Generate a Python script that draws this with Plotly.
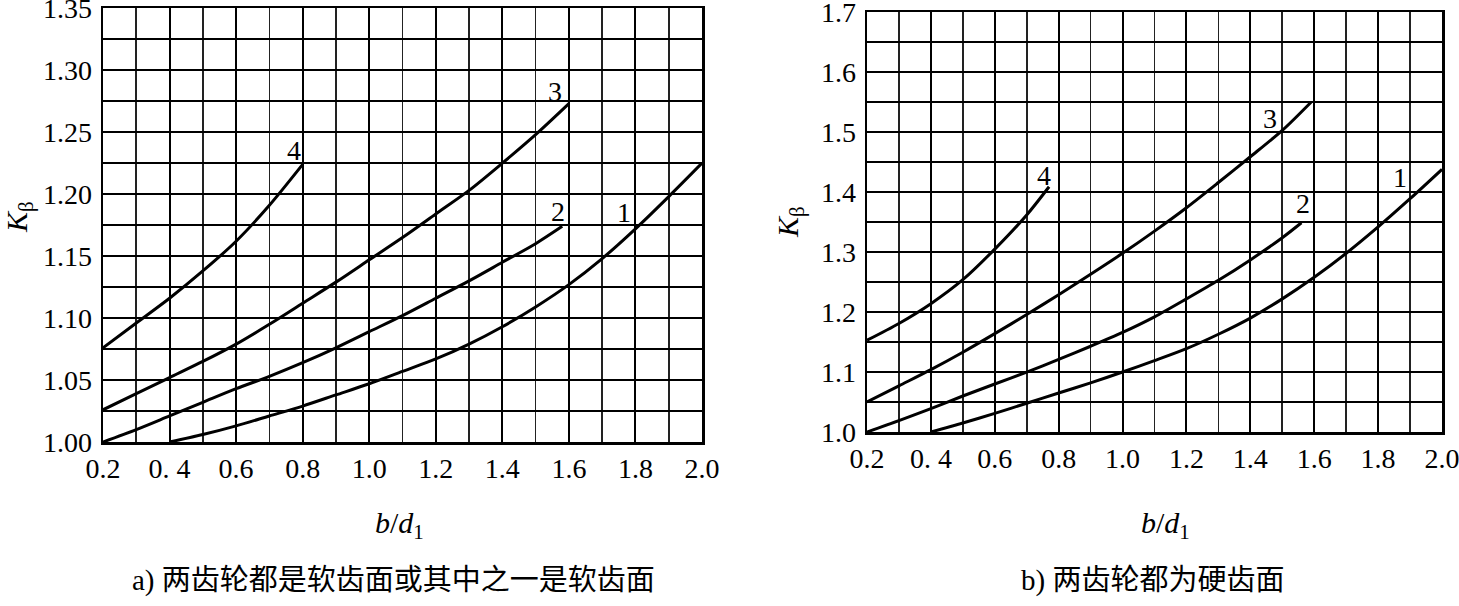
import plotly.graph_objects as go

# ---------------- data ----------------
# panel a) soft tooth faces
a1_x = [0.4, 0.5, 0.6, 0.7, 0.8, 0.9, 1.0, 1.1, 1.2, 1.3, 1.4, 1.5, 1.6, 1.7, 1.8, 1.9, 2.0]
a1_y = [1.000, 1.006, 1.013, 1.021, 1.029, 1.038, 1.047, 1.057, 1.067, 1.079, 1.093, 1.109, 1.127, 1.148, 1.172, 1.198, 1.225]
a2_x = [0.2, 0.3, 0.4, 0.5, 0.6, 0.7, 0.8, 0.9, 1.0, 1.1, 1.2, 1.3, 1.4, 1.5, 1.58]
a2_y = [1.000, 1.010, 1.021, 1.032, 1.043, 1.053, 1.064, 1.076, 1.089, 1.102, 1.116, 1.130, 1.145, 1.160, 1.174]
a3_x = [0.2, 0.3, 0.4, 0.5, 0.6, 0.7, 0.8, 0.9, 1.0, 1.1, 1.2, 1.3, 1.4, 1.5, 1.6]
a3_y = [1.026, 1.039, 1.052, 1.065, 1.079, 1.095, 1.112, 1.129, 1.147, 1.165, 1.184, 1.203, 1.225, 1.248, 1.273]
a4_x = [0.2, 0.3, 0.4, 0.5, 0.6, 0.7, 0.8]
a4_y = [1.076, 1.096, 1.116, 1.138, 1.162, 1.191, 1.224]

# panel b) hard tooth faces
b1_x = [0.4, 0.5, 0.6, 0.7, 0.8, 0.9, 1.0, 1.1, 1.2, 1.3, 1.4, 1.5, 1.6, 1.7, 1.8, 1.9, 2.0]
b1_y = [1.000, 1.015, 1.031, 1.048, 1.065, 1.082, 1.100, 1.119, 1.139, 1.163, 1.190, 1.222, 1.258, 1.298, 1.342, 1.389, 1.438]
b2_x = [0.2, 0.3, 0.4, 0.5, 0.6, 0.7, 0.8, 0.9, 1.0, 1.1, 1.2, 1.3, 1.4, 1.5, 1.56]
b2_y = [1.000, 1.019, 1.039, 1.060, 1.080, 1.100, 1.121, 1.143, 1.166, 1.192, 1.222, 1.253, 1.287, 1.324, 1.349]
b3_x = [0.2, 0.3, 0.4, 0.5, 0.6, 0.7, 0.8, 0.9, 1.0, 1.1, 1.2, 1.3, 1.4, 1.5, 1.59]
b3_y = [1.050, 1.077, 1.104, 1.133, 1.164, 1.196, 1.229, 1.263, 1.298, 1.335, 1.374, 1.416, 1.459, 1.503, 1.550]
b4_x = [0.2, 0.3, 0.4, 0.5, 0.6, 0.7, 0.77]
b4_y = [1.153, 1.181, 1.214, 1.254, 1.305, 1.362, 1.409]

curve_names = ["1", "2", "3", "4"]
x_tickvals = [0.2, 0.4, 0.6, 0.8, 1.0, 1.2, 1.4, 1.6, 1.8, 2.0]
x_ticktext = ["0.2", "0. 4", "0.6", "0.8", "1.0", "1.2", "1.4", "1.6", "1.8", "2.0"]
ya_tickvals = [1.00, 1.05, 1.10, 1.15, 1.20, 1.25, 1.30, 1.35]
ya_ticktext = ["1.00", "1.05", "1.10", "1.15", "1.20", "1.25", "1.30", "1.35"]
yb_tickvals = [1.0, 1.1, 1.2, 1.3, 1.4, 1.5, 1.6, 1.7]
yb_ticktext = ["1.0", "1.1", "1.2", "1.3", "1.4", "1.5", "1.6", "1.7"]

caption_a = "a) 两齿轮都是软齿面或其中之一是软齿面"
caption_b = "b) 两齿轮都为硬齿面"
x_title = "<i>b</i>/<i>d</i><sub>1</sub>"
y_title = "<i>K</i><sub>β</sub>"

# label anchor points (data coordinates, next to curve ends)
a_label_x = [1.765, 1.567, 1.558, 0.774]
a_label_y = [1.185, 1.186, 1.283, 1.235]
b_label_x = [1.869, 1.565, 1.462, 0.754]
b_label_y = [1.425, 1.381, 1.523, 1.428]

# ---------------- figure ----------------
W, H = 1459, 606
SERIF = "Liberation Serif, Times New Roman, serif"
CJK = "Liberation Serif, Noto Sans CJK SC, serif"
TICK_SIZE = 28

def fx(px):
    return px / W

def fy(py):
    return 1 - py / H

fig = go.Figure()
line_style = dict(color="black", width=3, shape="spline", smoothing=0.8)

for xs, ys in [(a1_x, a1_y), (a2_x, a2_y), (a3_x, a3_y), (a4_x, a4_y)]:
    fig.add_trace(go.Scatter(x=xs, y=ys, mode="lines", line=line_style,
                             xaxis="x", yaxis="y", showlegend=False, hoverinfo="skip"))
for xs, ys in [(b1_x, b1_y), (b2_x, b2_y), (b3_x, b3_y), (b4_x, b4_y)]:
    fig.add_trace(go.Scatter(x=xs, y=ys, mode="lines", line=line_style,
                             xaxis="x2", yaxis="y2", showlegend=False, hoverinfo="skip"))

def xaxis(domain, anchor):
    return dict(domain=domain, anchor=anchor, range=[0.2, 2.0], automargin=False,
                tickmode="array", tickvals=x_tickvals, ticktext=x_ticktext, ticks="",
                ticklabeloverflow="allow",
                showgrid=True, gridcolor="black", gridwidth=2,
                minor=dict(tickmode="linear", tick0=0.2, dtick=0.1, showgrid=True,
                           gridcolor="#222", gridwidth=1.6, ticks=""),
                showline=True, linecolor="black", linewidth=2.5, mirror=True,
                zeroline=False, tickfont=dict(family=SERIF, size=TICK_SIZE, color="black"),
                fixedrange=True)

def yaxis(domain, anchor, rng, tickvals, ticktext, minor_dtick):
    return dict(domain=domain, anchor=anchor, range=rng, automargin=False,
                tickmode="array", tickvals=tickvals, ticktext=ticktext, ticks="",
                ticklabeloverflow="allow",
                showgrid=True, gridcolor="black", gridwidth=2,
                minor=dict(tickmode="linear", tick0=1.0, dtick=minor_dtick, showgrid=True,
                           gridcolor="black", gridwidth=2, ticks=""),
                showline=True, linecolor="black", linewidth=2.5, mirror=True,
                zeroline=False, tickfont=dict(family=SERIF, size=TICK_SIZE, color="black"),
                ticklabelstandoff=3, fixedrange=True)

fig.update_layout(
    width=W, height=H, autosize=False,
    margin=dict(l=0, r=0, t=0, b=0, pad=0),
    paper_bgcolor="white", plot_bgcolor="white",
    xaxis=xaxis([fx(103), fx(702)], "y"),
    yaxis=yaxis([fy(442), fy(8)], "x", [1.0, 1.3502], ya_tickvals, ya_ticktext, 0.025),
    xaxis2=xaxis([fx(867), fx(1442)], "y2"),
    yaxis2=yaxis([fy(432), fy(12)], "x2", [1.0, 1.7004], yb_tickvals, yb_ticktext, 0.05),
)

ann = []
for name, x, y in zip(curve_names, a_label_x, a_label_y):
    ann.append(dict(x=x, y=y, xref="x", yref="y", text=name, showarrow=False,
                    xanchor="center", yanchor="middle",
                    font=dict(family=SERIF, size=28, color="black")))
for name, x, y in zip(curve_names, b_label_x, b_label_y):
    ann.append(dict(x=x, y=y, xref="x2", yref="y2", text=name, showarrow=False,
                    xanchor="center", yanchor="middle",
                    font=dict(family=SERIF, size=28, color="black")))

def paper_text(px, py, text, size, family, angle=0):
    return dict(x=fx(px), y=fy(py), xref="paper", yref="paper", text=text,
                showarrow=False, xanchor="center", yanchor="middle", textangle=angle,
                font=dict(family=family, size=size, color="black"))

ann += [
    paper_text(400, 525, x_title, 30, SERIF),
    paper_text(1165, 525, x_title, 30, SERIF),
    paper_text(19, 217, y_title, 30, SERIF, -90),
    paper_text(790, 222, y_title, 30, SERIF, -90),
    paper_text(393, 580, caption_a, 29, CJK),
    paper_text(1152, 580, caption_b, 29, CJK),
]
fig.update_layout(annotations=ann)

# remove the default 8px page margin so the figure fills the window exactly
fig.write_html("out.html",
               config={"displayModeBar": False, "staticPlot": True},
               post_script="document.body.style.margin='0';document.body.style.overflow='hidden';")
